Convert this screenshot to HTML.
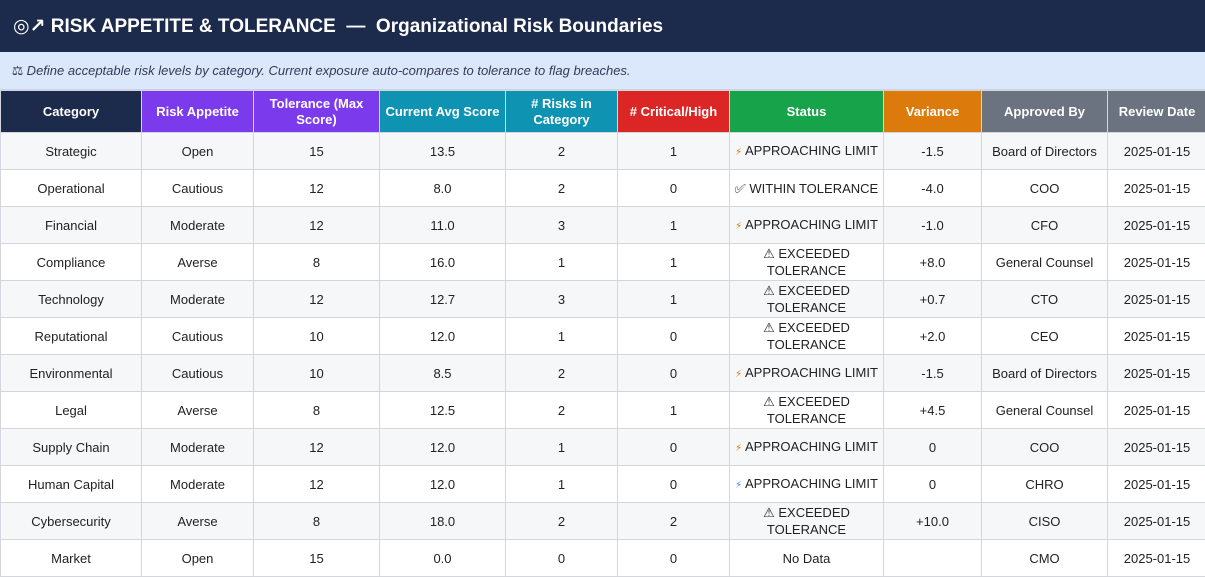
<!DOCTYPE html>
<html><head><meta charset="utf-8"><style>
*{margin:0;padding:0;box-sizing:border-box}
body{width:1205px;height:577px;overflow:hidden;background:#fff;font-family:"Liberation Sans","DejaVu Sans",sans-serif;color:#222}
.title{height:52px;background:#1c2a4c;color:#fff;font-weight:bold;font-size:19px;line-height:54px;padding-left:13px}
.info{height:38px;background:#dbe8fb;color:#333a55;font-style:italic;font-size:13px;line-height:38px;padding-left:12px;border-bottom:1px solid #c9d3e3}
table{border-collapse:collapse;table-layout:fixed;width:1206px}
th{color:#fff;font-size:13px;font-weight:bold;height:42px;border:1px solid #d3d6dc;line-height:16px;padding:0 2px}
td{height:37px;border:1px solid #d3d6dc;text-align:center;font-size:13px;line-height:17px;color:#222}
tr:nth-child(odd) td{background:#f6f7f9}
.n{background:#1c2a4c}.p{background:#7c3aed}.t{background:#0e94b2}.r{background:#dc2626}.g{background:#16a34a}.o{background:#dc7a0b}.y{background:#6b7280}
.z{color:#d97706;font-size:10px}.b{color:#3b82f6;font-size:10px}
</style></head><body>
<div class="title">◎&#x2197; RISK APPETITE &amp; TOLERANCE &nbsp;— &nbsp;Organizational Risk Boundaries</div>
<div class="info">⚖ Define acceptable risk levels by category. Current exposure auto-compares to tolerance to flag breaches.</div>
<table>
<colgroup><col style="width:141px"><col style="width:112px"><col style="width:126px"><col style="width:126px"><col style="width:112px"><col style="width:112px"><col style="width:154px"><col style="width:98px"><col style="width:126px"><col style="width:99px"></colgroup>
<thead><tr><th class="n">Category</th><th class="p">Risk Appetite</th><th class="p">Tolerance (Max Score)</th><th class="t">Current Avg Score</th><th class="t"># Risks in Category</th><th class="r"># Critical/High</th><th class="g">Status</th><th class="o">Variance</th><th class="y">Approved By</th><th class="y">Review Date</th></tr></thead>
<tbody>
<tr><td>Strategic</td><td>Open</td><td>15</td><td>13.5</td><td>2</td><td>1</td><td><span class="z">⚡</span> APPROACHING LIMIT</td><td>-1.5</td><td>Board of Directors</td><td>2025-01-15</td></tr>
<tr><td>Operational</td><td>Cautious</td><td>12</td><td>8.0</td><td>2</td><td>0</td><td>✅︎ WITHIN TOLERANCE</td><td>-4.0</td><td>COO</td><td>2025-01-15</td></tr>
<tr><td>Financial</td><td>Moderate</td><td>12</td><td>11.0</td><td>3</td><td>1</td><td><span class="z">⚡</span> APPROACHING LIMIT</td><td>-1.0</td><td>CFO</td><td>2025-01-15</td></tr>
<tr><td>Compliance</td><td>Averse</td><td>8</td><td>16.0</td><td>1</td><td>1</td><td>⚠ EXCEEDED<br>TOLERANCE</td><td>+8.0</td><td>General Counsel</td><td>2025-01-15</td></tr>
<tr><td>Technology</td><td>Moderate</td><td>12</td><td>12.7</td><td>3</td><td>1</td><td>⚠ EXCEEDED<br>TOLERANCE</td><td>+0.7</td><td>CTO</td><td>2025-01-15</td></tr>
<tr><td>Reputational</td><td>Cautious</td><td>10</td><td>12.0</td><td>1</td><td>0</td><td>⚠ EXCEEDED<br>TOLERANCE</td><td>+2.0</td><td>CEO</td><td>2025-01-15</td></tr>
<tr><td>Environmental</td><td>Cautious</td><td>10</td><td>8.5</td><td>2</td><td>0</td><td><span class="z">⚡</span> APPROACHING LIMIT</td><td>-1.5</td><td>Board of Directors</td><td>2025-01-15</td></tr>
<tr><td>Legal</td><td>Averse</td><td>8</td><td>12.5</td><td>2</td><td>1</td><td>⚠ EXCEEDED<br>TOLERANCE</td><td>+4.5</td><td>General Counsel</td><td>2025-01-15</td></tr>
<tr><td>Supply Chain</td><td>Moderate</td><td>12</td><td>12.0</td><td>1</td><td>0</td><td><span class="z">⚡</span> APPROACHING LIMIT</td><td>0</td><td>COO</td><td>2025-01-15</td></tr>
<tr><td>Human Capital</td><td>Moderate</td><td>12</td><td>12.0</td><td>1</td><td>0</td><td><span class="b">⚡</span> APPROACHING LIMIT</td><td>0</td><td>CHRO</td><td>2025-01-15</td></tr>
<tr><td>Cybersecurity</td><td>Averse</td><td>8</td><td>18.0</td><td>2</td><td>2</td><td>⚠ EXCEEDED<br>TOLERANCE</td><td>+10.0</td><td>CISO</td><td>2025-01-15</td></tr>
<tr><td>Market</td><td>Open</td><td>15</td><td>0.0</td><td>0</td><td>0</td><td>No Data</td><td></td><td>CMO</td><td>2025-01-15</td></tr>
</tbody></table>
</body></html>
